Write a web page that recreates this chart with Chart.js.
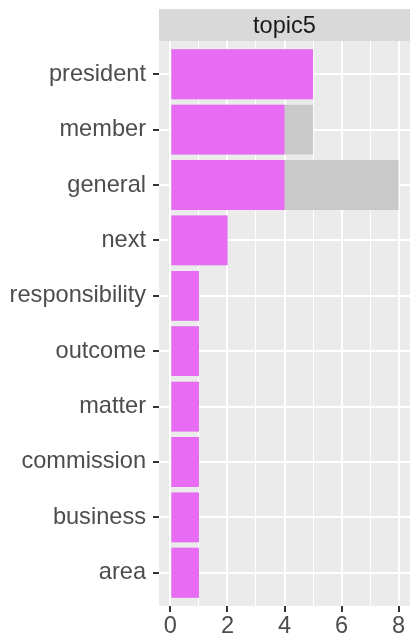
<!DOCTYPE html>
<html>
<head>
<meta charset="utf-8">
<script src="https://cdn.jsdelivr.net/npm/chart.js@4/dist/chart.umd.min.js"></script>
<style>
    html, body { margin: 0; padding: 0; background: #ffffff; }
    #wrap { width: 410px; height: 638px; position: relative; }
</style>
</head>
<body>
<div id="wrap"><canvas id="chart-topic"></canvas></div>
<script>
// --- Data ---
const PANEL_TITLE = 'topic5';
const WORDS = ['president', 'member', 'general', 'next', 'responsibility',
               'outcome', 'matter', 'commission', 'business', 'area'];
const TOPIC_COUNTS = [5, 4, 4, 2, 1, 1, 1, 1, 1, 1];
const TOTAL_COUNTS = [5, 5, 8, 2, 1, 1, 1, 1, 1, 1];
const X_TICKS = [0, 1, 2, 3, 4, 5, 6, 7, 8];

const COLORS = {
    topic: '#E76BF3',
    total: '#C9C9C9',
    panel: '#EBEBEB',
    strip: '#D9D9D9',
    grid: '#FFFFFF',
    tick: '#333333',
    axisText: '#4D4D4D',
    stripText: '#1A1A1A',
};
const FONT = { family: '"Liberation Sans", Arial, sans-serif', size: 23.6 };

// ggplot-like panel background and facet strip
const panelPlugin = {
    id: 'panel',
    beforeDraw(chart) {
        const { ctx, chartArea: a } = chart;
        ctx.save();
        ctx.fillStyle = COLORS.panel;
        ctx.fillRect(a.left, a.top, a.right - a.left, a.bottom - a.top);
        ctx.fillStyle = COLORS.strip;
        ctx.fillRect(a.left, 9, a.right - a.left, a.top - 9);
        ctx.fillStyle = COLORS.stripText;
        ctx.font = `${FONT.size}px ${FONT.family}`;
        ctx.textAlign = 'center';
        ctx.textBaseline = 'middle';
        ctx.fillText(PANEL_TITLE, (a.left + a.right) / 2, (9 + a.top) / 2 + 1);
        ctx.restore();
    }
};

const toPoints = vals => vals.map((v, i) => ({ x: v, y: i }));

new Chart(document.getElementById('chart-topic'), {
    type: 'bar',
    data: {
        datasets: [
            {
                label: 'total',
                data: toPoints(TOTAL_COUNTS),
                backgroundColor: COLORS.total,
                grouped: false,
                order: 2,
                categoryPercentage: 1,
                barPercentage: 0.9,
            },
            {
                label: PANEL_TITLE,
                data: toPoints(TOPIC_COUNTS),
                backgroundColor: COLORS.topic,
                grouped: false,
                order: 1,
                categoryPercentage: 1,
                barPercentage: 0.9,
            }
        ]
    },
    options: {
        indexAxis: 'y',
        responsive: true,
        maintainAspectRatio: false,
        animation: false,
        layout: { padding: { top: 41, left: 0, right: 0, bottom: 0 } },
        plugins: { legend: { display: false }, tooltip: { enabled: false } },
        scales: {
            x: {
                type: 'linear',
                min: -0.4,
                max: 8.4,
                afterBuildTicks: s => { s.ticks = X_TICKS.map(v => ({ value: v })); },
                afterFit: s => { s.height = 32; },
                border: { display: false },
                grid: {
                    color: COLORS.grid,
                    lineWidth: c => (c.tick && c.tick.value % 2 === 0 ? 2 : 1),
                    tickColor: c => (c.tick && c.tick.value % 2 === 0 ? COLORS.tick : 'rgba(0,0,0,0)'),
                    tickWidth: 2,
                    tickLength: 6,
                },
                ticks: {
                    color: COLORS.axisText,
                    font: FONT,
                    padding: 0,
                    maxRotation: 0,
                    autoSkip: false,
                    callback: v => (v % 2 === 0 ? String(v) : ''),
                }
            },
            y: {
                type: 'linear',
                reverse: true,
                offset: false,
                min: -0.6,
                max: WORDS.length - 0.4,
                afterBuildTicks: s => { s.ticks = WORDS.map((w, i) => ({ value: i })); },
                afterFit: s => { s.width = 159; },
                border: { display: false },
                grid: {
                    offset: false,
                    color: COLORS.grid,
                    lineWidth: 2,
                    tickColor: COLORS.tick,
                    tickWidth: 2,
                    tickLength: 6,
                },
                ticks: {
                    color: COLORS.axisText,
                    font: FONT,
                    padding: 7,
                    autoSkip: false,
                    callback: v => WORDS[v],
                }
            }
        }
    },
    plugins: [panelPlugin]
});
</script>
</body>
</html>
